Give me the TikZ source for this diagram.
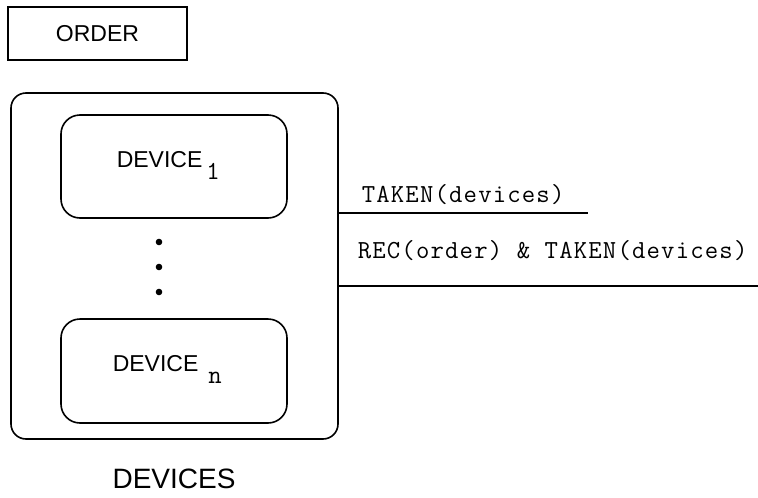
\documentclass[tikz,border=0pt]{standalone}
\usepackage{fontspec}
\setmainfont{Liberation Sans}
\newfontfamily\sigfont[LetterSpace=4.5]{Latin Modern Mono}
\usetikzlibrary{positioning}
\usetikzlibrary{calc}

\newcommand{\subtt}[1]{\raisebox{-12pt}{\fontsize{26}{26}\selectfont\ttfamily #1}}

\begin{document}
\begin{tikzpicture}[x=1pt, y=-1pt, line width=1.6pt,
  devbox/.style={draw, rounded corners=19pt, minimum width=226pt, minimum height=103pt},
  signal/.style={anchor=base west, inner sep=0pt, font=\fontsize{26}{26}\sigfont}]

\useasboundingbox (0, 0) rectangle (758, 498);

\node[draw, minimum width=179pt, minimum height=53pt, inner sep=0pt,
  font=\fontsize{23}{24}\selectfont] (order) at (97.5, 33.5) {ORDER};

\node[draw, rounded corners=15pt, minimum width=327pt, minimum height=346pt] (devices) at (174.5, 266) {};
\node[devbox] (dev1) at (174, 166.5) {};
\node[devbox, minimum height=104pt] (devn) at (174, 371) {};

\node[anchor=base west, inner sep=0pt, font=\fontsize{23}{24}\selectfont] (dev1txt) at (116, 167)
  {DEVICE\kern4pt\subtt{1}};
\node[anchor=base west, inner sep=0pt, font=\fontsize{23}{24}\selectfont] (devntxt) at (112, 371)
  {DEVICE\kern10pt\subtt{n}};

\foreach \y in {242, 267, 292}
  \fill (159, \y) circle(3.3);

\node[anchor=base, inner sep=0pt, font=\fontsize{28}{30}\selectfont] (devlabel) at (174, 488) {DEVICES};

% outputs of the device group
\coordinate (takenend) at (588, 213);
\coordinate (recend) at (758, 286);
\draw (devices.east |- takenend) -- (takenend);
\draw (devices.east |- recend) -- (recend);
\node[signal] (taken) at (361, 202) {TAKEN(devices)};
\node[signal] (rec) at (357, 258) {REC(order) \& TAKEN(devices)};
\end{tikzpicture}
\end{document}
